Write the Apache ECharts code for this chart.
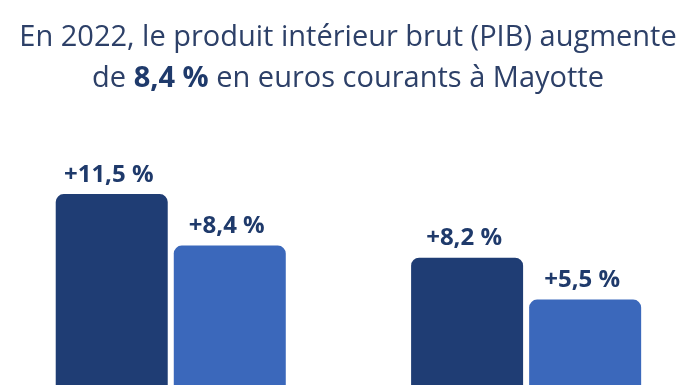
<!DOCTYPE html>
<html><head><meta charset="utf-8">
<script src="https://cdn.jsdelivr.net/npm/echarts@6/dist/echarts.min.js"></script>
<style>html,body{margin:0;padding:0;background:#fff}#c{width:696px;height:385px}</style>
</head><body><div id="c"></div>
<script>
const groups = ['Groupe 1', 'Groupe 2'];
const darkValues = [11.5, 8.2];
const lightValues = [8.4, 5.5];
const darkLabels = ['+11,5 %', '+8,2 %'];
const lightLabels = ['+8,4 %', '+5,5 %'];
const titleLine1 = 'En 2022, le produit intérieur brut (PIB) augmente';
const titleLine2a = 'de ';
const titleLine2b = '8,4 %';
const titleLine2c = ' en euros courants à Mayotte';

const FONT = '"Open Sans", sans-serif';
const DARK = '#1f3d74';
const LIGHT = '#3b68bb';
const LABEL = '#1f3a6b';

const chart = echarts.init(document.getElementById('c'), null, {renderer: 'canvas'});
const gridDefs = [
  {left: 0, width: 341.5, top: 136, bottom: 0},
  {left: 356.25, width: 340, top: 152, bottom: 0}
];
const yMax = [15, 15];
const series = [];
groups.forEach((g, i) => {
  const mk = (vals, labels, color) => ({
    type: 'bar',
    xAxisIndex: i, yAxisIndex: i,
    barWidth: 112,
    barGap: '5.4%',
    data: [{value: vals[i], label: {formatter: labels[i]}}],
    itemStyle: {color: color, borderRadius: [8, 8, 0, 0]},
    label: {show: true, position: 'top', distance: 7, color: LABEL,
            fontFamily: FONT, fontWeight: 'bold', fontSize: 24, offset: [-3, 0]},
    silent: true
  });
  series.push(mk(darkValues, darkLabels, DARK));
  series.push(mk(lightValues, lightLabels, LIGHT));
});

const rich = {
  a: {fontFamily: FONT, fontSize: 29, fontWeight: 'normal', color: '#2d4068'},
  b: {fontFamily: FONT, fontSize: 29, fontWeight: 'bold', color: '#1f3a6b'}
};
chart.setOption({
  animation: false,
  backgroundColor: '#fff',
  title: [
    {left: 'center', top: 18, text: '{a|' + titleLine1 + '}', textStyle: {rich: rich}},
    {left: 'center', top: 59, text: '{a|' + titleLine2a + '}{b|' + titleLine2b + '}{a|' + titleLine2c + '}', textStyle: {rich: rich}}
  ],
  grid: gridDefs,
  xAxis: groups.map((g, i) => ({type: 'category', gridIndex: i, data: [g], show: false})),
  yAxis: groups.map((g, i) => ({type: 'value', gridIndex: i, min: 0, max: yMax[i], show: false})),
  series: series
});
</script></body></html>
